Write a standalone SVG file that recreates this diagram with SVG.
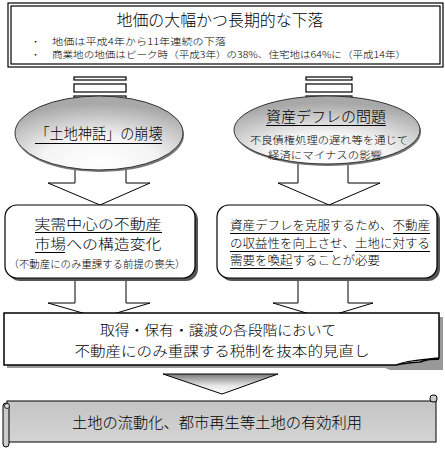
<svg xmlns="http://www.w3.org/2000/svg" width="445" height="450" viewBox="0 0 445 450">
<style>
text{font-family:"Noto Sans CJK JP",sans-serif;fill:#000;font-weight:300}
.t16{font-size:16px}
.t15{font-size:15px}
.t14{font-size:13.5px}
.t12{font-size:12px}
.t9{font-size:9px}
.t10{font-size:10px}
.ul{stroke:#000;stroke-width:1}
.bar{fill:#fff;stroke:#000;stroke-width:1.2}
.blk{fill:#fff;stroke:#000;stroke-width:1}
.ell{fill:url(#eg);stroke:#333;stroke-width:1}
.rbox{fill:#fff;stroke:#000;stroke-width:1.2}
.shadow{fill:#555}
</style>
<defs>
<radialGradient id="eg" cx="50%" cy="85%" r="75%" fx="50%" fy="90%">
<stop offset="0" stop-color="#ffffff"/>
<stop offset="0.45" stop-color="#f4f4f4"/>
<stop offset="1" stop-color="#a8a8a8"/>
</radialGradient>
<linearGradient id="tg" x1="0" y1="0" x2="0" y2="1">
<stop offset="0" stop-color="#7a7a7a"/>
<stop offset="0.6" stop-color="#e8e8e8"/>
<stop offset="1" stop-color="#ffffff"/>
</linearGradient>
<linearGradient id="sg" x1="0" y1="0" x2="0" y2="1">
<stop offset="0" stop-color="#c4c4c4"/>
<stop offset="1" stop-color="#d4d4d4"/>
</linearGradient>
</defs>

<g id="connectors">
<rect class="bar" x="74" y="77" width="52" height="3"/>
<rect class="bar" x="74" y="84" width="52" height="8"/>
<rect class="bar" x="74" y="96" width="52" height="6"/>
<rect class="bar" x="306" y="77" width="46" height="3"/>
<rect class="bar" x="306" y="84" width="46" height="8"/>
<rect class="bar" x="306" y="96" width="46" height="6"/>
<polygon class="blk" points="75,150 126,150 126,183 150,183 100,205 48,183 75,183"/>
<polygon class="blk" points="298,150 348,150 348,183 380,183 329,205 278,183 298,183"/>
<polygon class="blk" points="75,270 126,270 126,303 150,303 100,318 48,303 75,303"/>
<polygon class="blk" points="298,270 348,270 348,303 373,303 323,318 273,303 298,303"/>
<polygon points="163,374 278,374 222,394" fill="url(#tg)" stroke="#000" stroke-width="1"/>
</g>

<g id="top-box">
<rect x="8" y="3" width="435" height="64" fill="#fff" stroke="#000" stroke-width="1.2"/>
<rect x="11" y="6" width="429" height="58" fill="none" stroke="#000" stroke-width="1.2"/>
<text class="t16" x="220" y="26" text-anchor="middle" textLength="207" lengthAdjust="spacingAndGlyphs">地価の大幅かつ長期的な下落</text>
<text class="t9" x="31" y="45">・</text>
<text class="t9" x="52" y="45" textLength="174" lengthAdjust="spacingAndGlyphs">地価は平成4年から11年連続の下落</text>
<text class="t9" x="31" y="58">・</text>
<text class="t9" x="52" y="58" textLength="354" lengthAdjust="spacingAndGlyphs">商業地の地価はピーク時（平成3年）の38%、住宅地は64%に（平成14年）</text>
</g>

<g id="ellipse-left">
<ellipse cx="100" cy="135" rx="84" ry="37" fill="#777"/>
<ellipse class="ell" cx="99" cy="133" rx="84" ry="37"/>
<text class="t15" x="99" y="139" text-anchor="middle" textLength="127" lengthAdjust="spacingAndGlyphs">「土地神話」の崩壊</text>
<line class="ul" x1="35" y1="143.5" x2="162" y2="143.5"/>
</g>

<g id="ellipse-right">
<ellipse cx="328" cy="132" rx="93" ry="34" fill="#777"/>
<ellipse class="ell" cx="327" cy="130" rx="93" ry="34"/>
<text class="t15" x="326" y="122" text-anchor="middle" textLength="120" lengthAdjust="spacingAndGlyphs">資産デフレの問題</text>
<line class="ul" x1="266" y1="125.5" x2="386" y2="125.5"/>
<text class="t10" x="329" y="144" text-anchor="middle" textLength="158" lengthAdjust="spacingAndGlyphs">不良債権処理の遅れ等を通じて</text>
<text class="t10" x="325" y="159" text-anchor="middle" textLength="114" lengthAdjust="spacingAndGlyphs">経済にマイナスの影響</text>
</g>

<g id="box-left">
<rect class="shadow" x="8" y="208" width="190" height="73" rx="12"/>
<rect class="rbox" x="5" y="205" width="190" height="73" rx="12"/>
<text class="t14" x="98" y="229" text-anchor="middle" textLength="127" lengthAdjust="spacingAndGlyphs">実需中心の不動産</text>
<line class="ul" x1="35" y1="232.5" x2="162" y2="232.5"/>
<text class="t14" x="98" y="249" text-anchor="middle" textLength="127" lengthAdjust="spacingAndGlyphs">市場への構造変化</text>
<line class="ul" x1="35" y1="252.5" x2="65" y2="252.5"/>
<text class="t10" x="97" y="268" text-anchor="middle" textLength="177" lengthAdjust="spacingAndGlyphs">（不動産にのみ重課する前提の喪失）</text>
</g>

<g id="box-right">
<rect class="shadow" x="220" y="208" width="220" height="73" rx="12"/>
<rect class="rbox" x="217" y="205" width="220" height="73" rx="12"/>
<text class="t12" x="230" y="230" textLength="200" lengthAdjust="spacingAndGlyphs">資産デフレを克服するため、不動産</text>
<line class="ul" x1="230" y1="233.5" x2="330" y2="233.5"/>
<line class="ul" x1="393" y1="233.5" x2="430" y2="233.5"/>
<text class="t12" x="230" y="248" textLength="200" lengthAdjust="spacingAndGlyphs">の収益性を向上させ、土地に対する</text>
<line class="ul" x1="230" y1="251.5" x2="333" y2="251.5"/>
<line class="ul" x1="355" y1="251.5" x2="430" y2="251.5"/>
<text class="t12" x="230" y="265" textLength="150" lengthAdjust="spacingAndGlyphs">需要を喚起することが必要</text>
<line class="ul" x1="230" y1="268.5" x2="293" y2="268.5"/>
</g>

<g id="box-tax">
<path d="M7,317 H443 V370 H390 L385,368 L15,368 L7,368 Z" fill="#999"/>
<path d="M4,313 H439 V358 Q432,358 420,362 Q405,363 396,365 H4 Z" fill="#fff" stroke="#000" stroke-width="1.5"/>
<path d="M439,358 Q425,358 408,361 Q398,363 396,365 Q410,360 439,360 Z" fill="#000"/>
<text class="t14" x="218" y="335" text-anchor="middle" textLength="236" lengthAdjust="spacingAndGlyphs">取得・保有・譲渡の各段階において</text>
<text class="t14" x="222" y="356" text-anchor="middle" textLength="295" lengthAdjust="spacingAndGlyphs">不動産にのみ重課する税制を抜本的見直し</text>
</g>

<g id="banner">
<rect x="7" y="401" width="429" height="41" fill="url(#sg)" stroke="#000" stroke-width="1"/>
<rect x="3" y="403" width="6" height="44" rx="3" fill="#ccc" stroke="#000" stroke-width="1"/>
<circle cx="7" cy="406" r="2.5" fill="#ddd" stroke="#000" stroke-width="0.8"/>
<rect x="430" y="395" width="7" height="7" rx="3" fill="#ccc" stroke="#000" stroke-width="1"/>
<text class="t15" x="217" y="428" text-anchor="middle" textLength="290" lengthAdjust="spacingAndGlyphs">土地の流動化、都市再生等土地の有効利用</text>
</g>
</svg>
